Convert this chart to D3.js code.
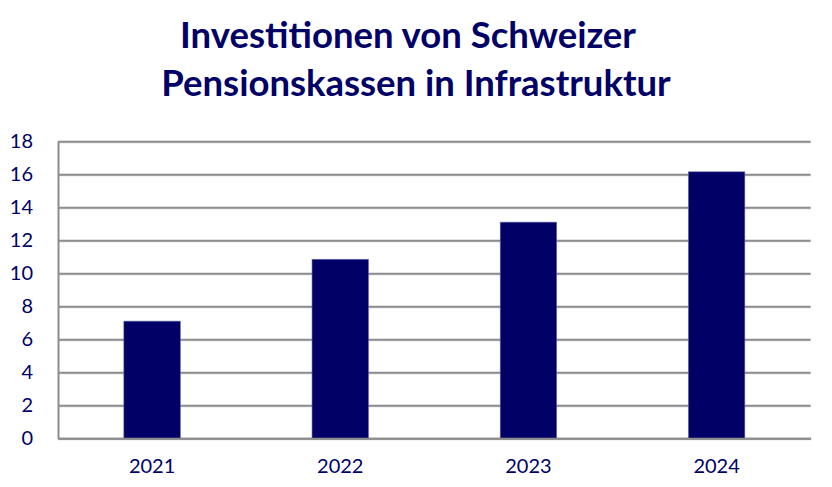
<!DOCTYPE html>
<html>
<head>
<meta charset="utf-8">
<script src="https://cdn.jsdelivr.net/npm/d3@7"></script>
<style>
  body { margin: 0; background: #fff; }
  svg { display: block; }
</style>
</head>
<body>
<svg></svg>
<script>
const years = ["2021", "2022", "2023", "2024"];
const values = [7.1, 10.85, 13.1, 16.15];
const yTicks = [0, 2, 4, 6, 8, 10, 12, 14, 16, 18];
const titleLines = ["Investitionen von Schweizer", "Pensionskassen in Infrastruktur"];

const svgWidth = 832;
const svgHeight = 487;
const margin = { top: 141.3, right: 21.3, bottom: 48.7, left: 58 };
const width = svgWidth - margin.left - margin.right;
const height = svgHeight - margin.top - margin.bottom;
const navy = "#000066";

const svg = d3.select("svg")
  .attr("width", svgWidth)
  .attr("height", svgHeight);

svg.append("g")
  .selectAll("text")
  .data(titleLines)
  .join("text")
  .attr("x", (d, i) => (i === 0 ? 408 : 416))
  .attr("y", (d, i) => 48 + i * 48)
  .attr("text-anchor", "middle")
  .attr("font-family", "Lato, sans-serif")
  .attr("font-weight", "bold")
  .attr("font-size", 36.5)
  .attr("fill", navy)
  .text((d) => d);

const g = svg.append("g")
  .attr("transform", "translate(" + margin.left + "," + margin.top + ")");

const xScale = d3.scaleBand()
  .domain(years)
  .range([0, width])
  .paddingInner(0.7)
  .paddingOuter(0.35);

const yScale = d3.scaleLinear()
  .domain([0, 18])
  .range([height, 0]);

// gridlines with a light shade below, like the original
g.append("g")
  .selectAll("line")
  .data(yTicks)
  .join("line")
  .attr("x1", 0)
  .attr("x2", width)
  .attr("y1", (d) => yScale(d) + 1.5)
  .attr("y2", (d) => yScale(d) + 1.5)
  .attr("stroke", "#d4d4d4")
  .attr("stroke-width", 1);

g.append("g")
  .call(d3.axisLeft(yScale).tickValues(yTicks).tickSize(-width).tickFormat(""))
  .call((a) => a.select(".domain").remove())
  .selectAll("line")
  .attr("stroke", "#8c8c8c")
  .attr("stroke-width", 2);

// bars
g.append("g")
  .selectAll("rect")
  .data(values)
  .join("rect")
  .attr("x", (d, i) => xScale(years[i]))
  .attr("y", (d) => yScale(d))
  .attr("width", xScale.bandwidth())
  .attr("height", (d) => height - yScale(d))
  .attr("fill", navy)
  .attr("stroke", "#6666a8")
  .attr("stroke-width", 0.6);

// y axis
const yAxis = g.append("g")
  .call(d3.axisLeft(yScale).tickValues(yTicks).tickSize(0).tickPadding(25));
yAxis.select(".domain")
  .attr("stroke", "#8c8c8c")
  .attr("stroke-width", 2);
yAxis.selectAll("text")
  .attr("font-family", "Lato, sans-serif")
  .attr("font-size", 20)
  .attr("fill", navy);

// x axis
const xAxis = g.append("g")
  .attr("transform", "translate(0," + height + ")")
  .call(d3.axisBottom(xScale).tickSize(0).tickPadding(21));
xAxis.select(".domain")
  .attr("stroke", "#8c8c8c")
  .attr("stroke-width", 2);
xAxis.selectAll("text")
  .attr("font-family", "Lato, sans-serif")
  .attr("font-size", 20)
  .attr("fill", navy);
</script>
</body>
</html>
